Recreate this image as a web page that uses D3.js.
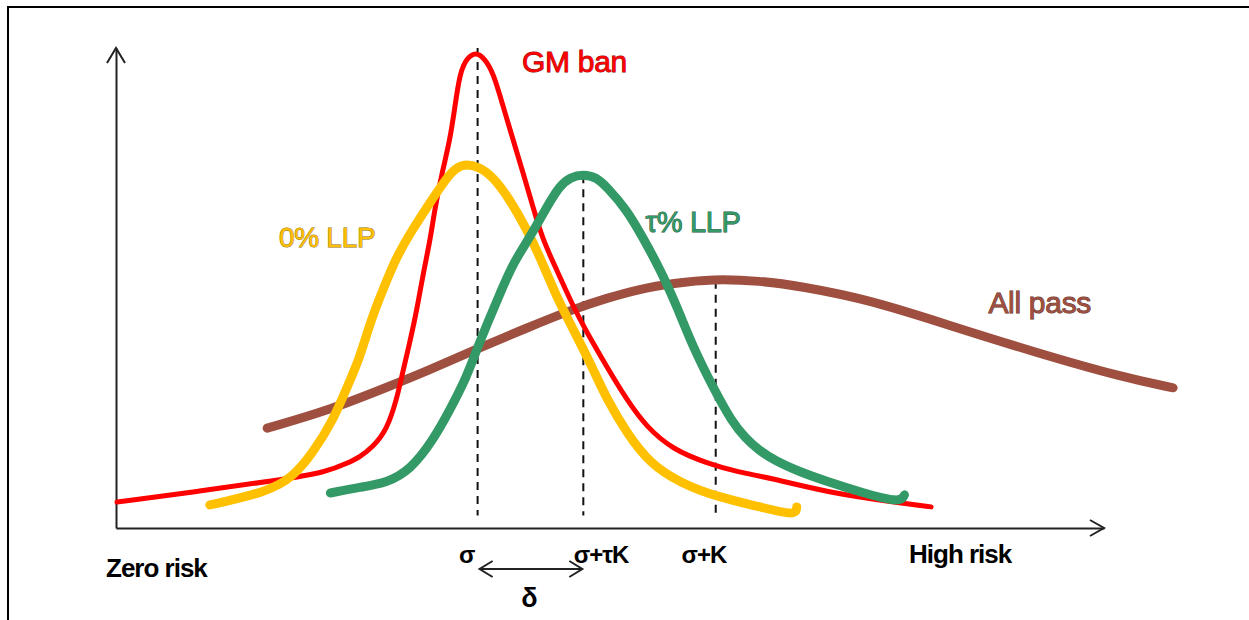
<!DOCTYPE html>
<html>
<head>
<meta charset="utf-8">
<script src="https://cdn.jsdelivr.net/npm/d3@7/dist/d3.min.js"></script>
<style>
  html, body { margin: 0; padding: 0; background: #fff; }
  svg { display: block; }
</style>
</head>
<body>
<svg id="chart" width="1249" height="620"></svg>
<script>
// ---- data (risk axis 0–100, density axis 0–100) ----
const gmBanX  = [0.1, 8.5, 16.6, 21.4, 23.4, 24.7, 26.0, 27.4, 28.4, 29.0, 29.8, 30.5, 31.1, 31.8, 32.3, 33.0, 33.8, 34.3, 34.8, 35.5, 36.4, 37.3, 38.2, 39.2, 40.2, 41.2, 42.2, 43.2, 44.6, 46.3, 47.7, 49.7, 51.7, 53.7, 56.4, 59.8, 63.2, 65.9, 72.2, 79.4, 82.5];
const gmBanY  = [5.4, 7.7, 10.0, 11.7, 13.5, 14.8, 16.9, 20.4, 26.7, 32.3, 39.2, 46.0, 53.1, 60.0, 66.9, 74.0, 80.8, 87.7, 94.8, 97.9, 99.2, 97.9, 94.8, 87.7, 80.8, 74.0, 66.9, 60.0, 53.8, 46.0, 40.6, 33.5, 26.7, 21.0, 16.3, 13.5, 11.5, 10.6, 7.3, 5.2, 4.4];

const llp0X   = [9.5, 15.3, 17.9, 19.9, 22.0, 23.4, 24.7, 25.7, 27.0, 28.4, 29.8, 31.5, 33.5, 34.5, 35.5, 36.8, 38.2, 39.9, 41.6, 42.9, 44.6, 46.3, 48.0, 49.7, 51.7, 54.0, 57.1, 60.8, 65.2, 68.8, 68.9];
const llp0Y   = [4.8, 7.5, 10.6, 15.6, 22.5, 29.4, 35.6, 42.7, 49.6, 56.5, 61.5, 66.9, 73.1, 75.2, 75.8, 75.2, 73.1, 68.3, 62.1, 56.5, 48.1, 41.3, 34.4, 26.7, 19.8, 13.5, 9.4, 6.5, 4.4, 2.5, 4.4];

const llpTauX = [21.7, 24.7, 27.4, 29.8, 32.1, 33.8, 35.5, 36.5, 37.6, 38.9, 40.2, 41.9, 43.6, 44.9, 46.0, 47.3, 48.6, 49.7, 51.7, 53.3, 55.1, 56.8, 58.4, 60.4, 62.4, 63.7, 65.0, 66.7, 69.2, 71.8, 75.3, 79.4, 79.8];
const llpTauY = [7.3, 8.5, 9.4, 12.1, 18.3, 24.6, 31.5, 37.1, 42.7, 49.0, 55.2, 60.6, 66.9, 71.3, 73.1, 73.7, 73.1, 71.0, 66.3, 60.6, 53.8, 46.0, 37.7, 29.4, 21.9, 18.8, 16.3, 14.0, 11.7, 9.8, 7.5, 5.2, 6.9];

const allPassX = [15.3, 21.7, 28.0, 31.5, 36.5, 41.6, 46.3, 49.7, 53.0, 56.4, 60.4, 65.2, 69.2, 76.4, 84.8, 93.2, 101.7, 107.0];
const allPassY = [20.8, 24.6, 29.8, 32.7, 37.3, 41.7, 45.6, 47.9, 49.8, 51.0, 51.9, 51.5, 50.4, 47.5, 41.9, 36.5, 31.5, 29.2];

const seriesNames  = ["All pass", "GM ban", "0% LLP", "τ% LLP"];
const seriesColors = ["#9F4F40", "#FF0000", "#FFC000", "#339966"];

// reference lines
const markerLabels = ["σ", "σ+τK", "σ+K"];
const markerX      = [36.6, 47.3, 60.7];
const markerTop    = [100, 73.5, 51.5];
const markerLabelX = [35.5, 49.1, 59.5];

// series labels (position in data units)
const labelX = [88.3, 41.1, 16.5, 53.6];
const labelY = [44.8, 95.0, 58.5, 61.7];

const axisLabels = ["Zero risk", "High risk"];
const deltaLabel = "δ";

// ---- layout ----
const svg = d3.select("#chart");
const x = d3.scaleLinear().domain([0, 100]).range([116, 1104]);
const y = d3.scaleLinear().domain([0, 100]).range([528, 48]);

// frame
svg.append("rect")
  .attr("x", 8).attr("y", 7).attr("width", 1400).attr("height", 800)
  .attr("fill", "none").attr("stroke", "#000").attr("stroke-width", 2);

// axes
const axisColor = "#222";
const gx = svg.append("g").attr("transform", `translate(0,${y(0)})`)
  .call(d3.axisBottom(x).tickValues([]).tickSizeOuter(0));
const gy = svg.append("g").attr("transform", `translate(${x(0)},0)`)
  .call(d3.axisLeft(y).tickValues([]).tickSizeOuter(0));
[gx, gy].forEach(g => g.select(".domain").attr("stroke", axisColor).attr("stroke-width", 2));

// arrowheads
svg.append("path")
  .attr("d", `M${x(0) - 9},${y(100) + 15} L${x(0)},${y(100)} L${x(0) + 9},${y(100) + 15}`)
  .attr("fill", "none").attr("stroke", axisColor).attr("stroke-width", 2);
svg.append("path")
  .attr("d", `M${x(100) - 14},${y(0) - 8} L${x(100)},${y(0)} L${x(100) - 14},${y(0) + 8}`)
  .attr("fill", "none").attr("stroke", axisColor).attr("stroke-width", 2);

// dashed reference lines
markerX.forEach((mx, i) => {
  svg.append("line")
    .attr("x1", x(mx)).attr("x2", x(mx))
    .attr("y1", y(markerTop[i])).attr("y2", y(2.6))
    .attr("stroke", "#111").attr("stroke-width", 2)
    .attr("stroke-dasharray", "8,6");
});

// curves
const line = d3.line()
  .x(d => x(d[0])).y(d => y(d[1]))
  .curve(d3.curveBasis);

const seriesData = [
  d3.zip(allPassX, allPassY),
  d3.zip(gmBanX, gmBanY),
  d3.zip(llp0X, llp0Y),
  d3.zip(llpTauX, llpTauY)
];
const widths = [9, 5, 9, 9];

seriesData.forEach((pts, i) => {
  svg.append("path")
    .datum(pts)
    .attr("d", line)
    .attr("fill", "none")
    .attr("stroke", seriesColors[i])
    .attr("stroke-width", widths[i])
    .attr("stroke-linecap", "round")
    .attr("stroke-linejoin", "round");
});

// series labels
const font = "'Liberation Sans', Arial, sans-serif";
const labelSizes = [30, 30, 28, 29];
seriesNames.forEach((name, i) => {
  svg.append("text")
    .attr("x", x(labelX[i])).attr("y", y(labelY[i]))
    .attr("font-family", font).attr("font-size", labelSizes[i])
    .attr("fill", seriesColors[i])
    .attr("stroke", d3.color(seriesColors[i]).darker(1.6))
    .attr("stroke-width", 0.9)
    .attr("paint-order", "stroke")
    .attr("letter-spacing", -0.3)
    .text(name);
});

// axis end labels
const boldText = (tx, ty, s, anchor, size) => svg.append("text")
  .attr("x", tx).attr("y", ty)
  .attr("font-family", font).attr("font-weight", "bold")
  .attr("font-size", size).attr("letter-spacing", -1)
  .attr("text-anchor", anchor).attr("fill", "#000").text(s);

boldText(106, y(0) + 49, axisLabels[0], "start", 26);
boldText(909, y(0) + 35, axisLabels[1], "start", 26);

// marker labels
markerLabels.forEach((s, i) => {
  boldText(x(markerLabelX[i]), y(0) + 35, s, "middle", 24);
});

// delta double arrow
const ax1 = x(markerX[0]) + 2, ax2 = x(markerX[1]) - 1, ay = y(0) + 41;
svg.append("line").attr("x1", ax1).attr("x2", ax2).attr("y1", ay).attr("y2", ay)
  .attr("stroke", "#222").attr("stroke-width", 2);
svg.append("path")
  .attr("d", `M${ax1 + 13},${ay - 8} L${ax1},${ay} L${ax1 + 13},${ay + 8}`)
  .attr("fill", "none").attr("stroke", "#222").attr("stroke-width", 2);
svg.append("path")
  .attr("d", `M${ax2 - 13},${ay - 8} L${ax2},${ay} L${ax2 - 13},${ay + 8}`)
  .attr("fill", "none").attr("stroke", "#222").attr("stroke-width", 2);

boldText((ax1 + ax2) / 2 - 2, y(0) + 79, deltaLabel, "middle", 27);
</script>
</body>
</html>
